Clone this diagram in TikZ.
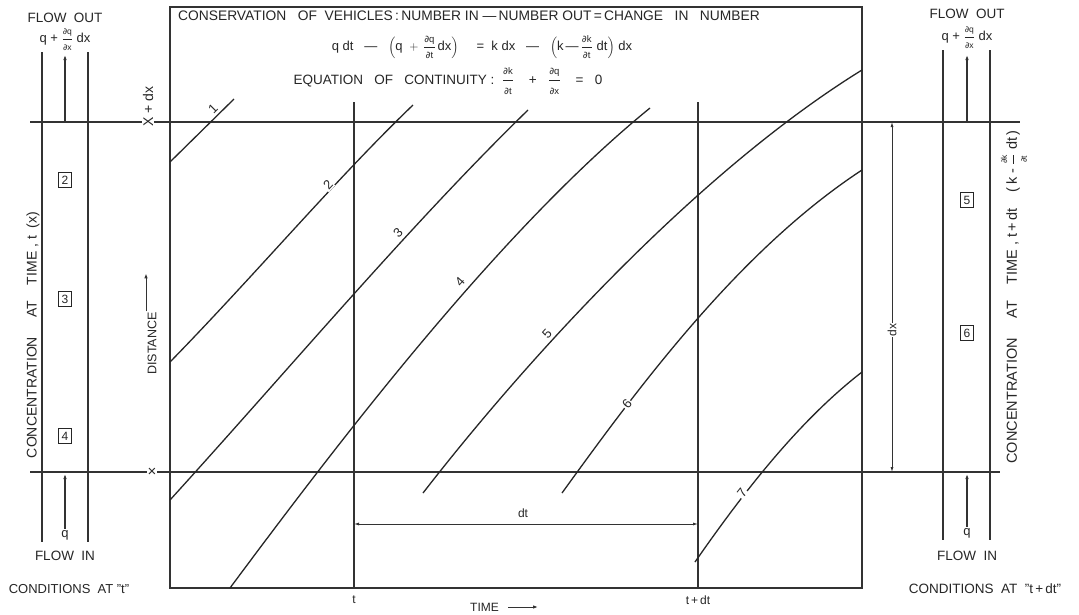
\documentclass[tikz,border=0pt]{standalone}
\usepackage{fontspec}
\usepackage{amsmath}
\setmainfont{Liberation Sans}
\newfontfamily\djv{DejaVu Sans}
\usetikzlibrary{arrows.meta}
\newcommand\pdr[2]{\ensuremath{\genfrac{}{}{0.5pt}{0}{\text{\fontsize{9.5}{10}\selectfont{\djv ∂}#1}}{\text{\fontsize{9.5}{10}\selectfont{\djv ∂}#2}}}}
\newcommand\pds[2]{\ensuremath{\genfrac{}{}{0.5pt}{0}{\text{\fontsize{8.5}{9}\selectfont{\djv ∂}#1}}{\text{\fontsize{8.5}{9}\selectfont{\djv ∂}#2}}}}
\tikzset{
  ln/.style={line width=1.2pt, draw=black!80},
  traj/.style={line width=1.3pt, draw=black!85},
  lab/.style={font=\fontsize{13}{15}\selectfont, inner sep=1pt, text=black!85},
  small/.style={font=\fontsize{12}{14}\selectfont, inner sep=1pt, text=black!85},
  numbox/.style={draw=black!85, line width=0.9pt, font=\fontsize{12}{13}\selectfont, inner sep=1pt, minimum width=13pt, minimum height=15pt, text=black!85},
  tlab/.style={fill=white, inner sep=1pt, font=\fontsize{13}{14}\selectfont, text=black!85},
  arr/.style={-{Latex[length=5pt,width=3.5pt]}},
  dim/.style={{Latex[length=5pt,width=3pt]}-{Latex[length=5pt,width=3pt]}},
}
\begin{document}
\begin{tikzpicture}[x=1pt,y=-1pt]
\useasboundingbox (0,0) rectangle (1079,614);
\fill[white] (0,0) rectangle (1079,614);

% main frame
\draw[ln] (170,7) rectangle (862,588);

% horizontal lines x+dx and x
\draw[ln] (30,122) -- (1020,122);
\draw[ln] (30,472) -- (1000,472);
\node[lab, font=\fontsize{14}{15}\selectfont, rotate=90, anchor=west, fill=white] (xdx) at (148,128) {X + dx};
\node[lab, font=\fontsize{15}{15}\selectfont, fill=white] (xx) at (152,472) {×};

% time lines
\draw[ln] (354,102) -- (354,588);
\draw[ln] (698,102) -- (698,588);

% trajectories
\draw[traj] (170,162) -- (234,99);
\draw[traj] (170,362) .. controls (255,275) and (335,180) .. (413,105);
\draw[traj] (170,500) .. controls (290,368) and (410,225) .. (528,110);
\draw[traj] (230,588) .. controls (340,440) and (500,230) .. (650,108);
\draw[traj] (423,493) .. controls (530,355) and (700,170) .. (862,70);
\draw[traj] (562,493) .. controls (640,385) and (740,250) .. (862,170);
\draw[traj] (695,562) .. controls (745,490) and (800,420) .. (862,372);

\node[tlab, fill=none, rotate=45] (l1) at (213,109) {1};
\node[tlab, rotate=47] (l2) at (328,185) {2};
\node[tlab, rotate=45] (l3) at (398,233) {3};
\node[tlab, rotate=48] (l4) at (460,282) {4};
\node[tlab, rotate=48] (l5) at (547,334) {5};
\node[tlab, rotate=50] (l6) at (627,404) {6};
\node[tlab, rotate=52] (l7) at (742,493) {7};

% dimension dt
\draw[ln, line width=0.8pt, dim] (354,524) -- (698,524);
\node[small] (dt) at (523,513) {dt};
% dimension dx
\draw[ln, line width=0.8pt, dim] (892,122) -- (892,472);
\node[small, rotate=90, fill=white] (dx) at (892,330) {dx};

% bottom labels
\node[small] (tt) at (354,600) {t};
\node[small] (ttdt) at (698,600) {t\,+\,dt};
\node[small, anchor=west] (time) at (469,607) {TIME};
\draw[ln, arr, line width=1pt] ([xshift=8pt]time.east) -- ++(30,0);
\node[small, font=\fontsize{12.5}{14}\selectfont, rotate=90, anchor=west] (dist) at (152,376) {DISTANCE};
\draw[ln, arr, line width=1pt] ([xshift=-6pt]dist.east) -- ++(0,-38);

% top texts
\node[lab, anchor=west, font=\fontsize{13.8}{15}\selectfont] (title) at (177,16)
  {CONSERVATION\ \ \ OF\ \ VEHICLES\,:\,NUMBER\ IN\ —\,NUMBER\ OUT\,=\,CHANGE\ \ \ IN\ \ \ NUMBER};
\node[lab, font=\fontsize{13}{15}\selectfont] (eq1) at (482,47)
  {q dt\ \ \ —\ \ \ $\Bigl(\text{q}\,\,+\,\pdr{q}{t}\,\text{dx}\Bigr)$\ \ \ \ \ =\ \ k dx\ \ \ —\ \ \ $\Bigl(\text{k}\,—\,\pdr{k}{t}\,\,\text{dt}\Bigr)$\ dx};
\node[lab, font=\fontsize{13.5}{15}\selectfont] (eq2) at (448,81)
  {EQUATION\ \ \ OF\ \ \ CONTINUITY\ :\ \ \pdr{k}{t}\ \ \ \ +\ \ \ \pdr{q}{x}\ \ \ \ =\ \ \ 0};

% left panel
\draw[ln] (42,52) -- (42,542);
\draw[ln] (88,52) -- (88,542);
\node[lab, font=\fontsize{13.5}{15}\selectfont] (foL) at (65,18) {FLOW\ \ OUT};
\node[lab] (qoL) at (65,40) {q + \pds{q}{x} dx};
\draw[ln, arr] (65,122) -- (65,55);
\node[lab] (qiL) at (65,535) {q};
\draw[ln, arr] (qiL.north) -- (65,474);
\node[lab, font=\fontsize{13.5}{15}\selectfont] (fiL) at (65,556) {FLOW\ \ IN};
\node[lab] (cL) at (69,589) {CONDITIONS\ \ AT\ "t"};
\node[numbox] (b2) at (65,180) {2};
\node[numbox] (b3) at (65,299) {3};
\node[numbox] (b4) at (65,436) {4};
\node[lab, font=\fontsize{14}{15}\selectfont, rotate=90] (concL) at (33,335) {CONCENTRATION\ \ \ \ \ AT\ \ \ \ TIME\ , t\ \ (x)};

% right panel
\draw[ln] (943,50) -- (943,540);
\draw[ln] (990,50) -- (990,540);
\node[lab, font=\fontsize{13.5}{15}\selectfont] (foR) at (967,14) {FLOW\ \ OUT};
\node[lab] (qoR) at (967,38) {q + \pds{q}{x} dx};
\draw[ln, arr] (967,122) -- (967,55);
\node[lab] (qiR) at (967,533) {q};
\draw[ln, arr] (qiR.north) -- (967,474);
\node[lab, font=\fontsize{13.5}{15}\selectfont] (fiR) at (967,556) {FLOW\ \ IN};
\node[lab, font=\fontsize{13.5}{15}\selectfont] (cR) at (985,589) {CONDITIONS\ \ AT\ \ "t\,+\,dt"};
\node[numbox] (b5) at (967,200) {5};
\node[numbox] (b6) at (967,333) {6};
\node[lab, font=\fontsize{14.5}{16}\selectfont, rotate=90] (concR) at (1014,297) {CONCENTRATION\ \ \ \ \ AT\ \ \ \ TIME\ ,\ t\,+\,dt\ \ \ \ (\,k\ -\ \pds{k}{t}\ dt\,)};
\end{tikzpicture}
\end{document}
